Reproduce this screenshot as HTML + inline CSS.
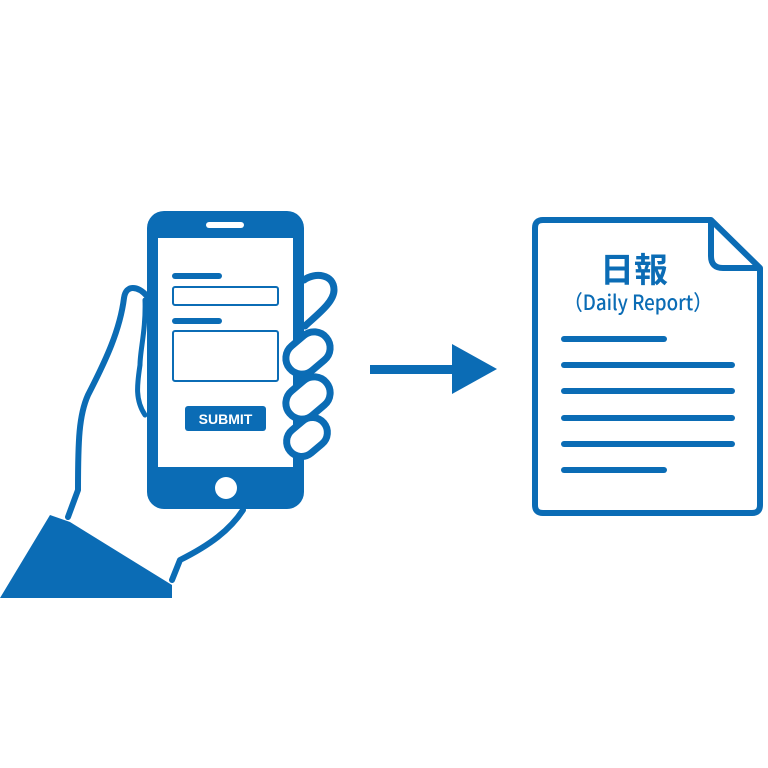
<!DOCTYPE html>
<html><head><meta charset="utf-8"><style>html,body{margin:0;padding:0;background:#fff}svg{display:block}</style></head>
<body>
<svg width="768" height="768" viewBox="0 0 768 768" xmlns="http://www.w3.org/2000/svg">
<g fill="none" stroke="#0b6cb5" stroke-linecap="round" stroke-linejoin="round">
  <!-- hand outline -->
  <path d="M147 296 C138 286 126 284 124 298 C120 330 106 360 88 395 C79 415 78 440 78 490 L68 517" stroke-width="6"/>
  <path d="M145 300 C146 330 140 350 140 365 C137 385 135 400 145 415" stroke-width="5"/>
  <path d="M243 510 C230 530 210 545 180 560 L172 580" stroke-width="6"/>
  <!-- fingers -->
  <path d="M304 280 C315 272 334 274 334 290 C334 302 318 314 305 326" stroke-width="7"/>
</g>
<!-- cuff -->
<path d="M50 515 L70 522 L172 585 L172 598 L0 598 Z" fill="#0b6cb5"/>
<!-- phone -->
<rect x="147" y="211" width="157" height="298" rx="17" fill="#0b6cb5"/>
<rect x="158" y="238" width="135" height="229" fill="#fff"/>
<rect x="206" y="222" width="38" height="6" rx="3" fill="#fff"/>
<circle cx="226" cy="488" r="11" fill="#fff"/>
<g fill="#0b6cb5">
  <rect x="172" y="273" width="50" height="6" rx="3"/>
  <rect x="172" y="318" width="50" height="6" rx="3"/>
  <rect x="185" y="406" width="81" height="25" rx="3"/>
</g>
<rect x="173" y="287" width="105" height="18" rx="2" fill="none" stroke="#0b6cb5" stroke-width="2"/>
<rect x="173" y="331" width="105" height="50" rx="2" fill="none" stroke="#0b6cb5" stroke-width="2"/>
<text x="225.5" y="424" text-anchor="middle" font-family="Liberation Sans, sans-serif" font-weight="bold" font-size="14" fill="#fff">SUBMIT</text>
<!-- fingers over phone edge -->
<g fill="#fff" stroke="#0b6cb5" stroke-width="7">
  <rect x="-24" y="-16" width="48" height="32" rx="16" transform="translate(308,353) rotate(-40)"/>
  <rect x="-24" y="-16" width="48" height="32" rx="16" transform="translate(308,398) rotate(-40)"/>
  <rect x="-22" y="-15" width="44" height="30" rx="15" transform="translate(307,437) rotate(-40)"/>
</g>
<!-- arrow -->
<rect x="370" y="365" width="88" height="9" fill="#0b6cb5"/>
<path d="M452 344 L497 369 L452 394 Z" fill="#0b6cb5"/>
<!-- document -->
<path d="M543 220 L711 220 L760 268 L760 505 Q760 513 752 513 L543 513 Q535 513 535 505 L535 228 Q535 220 543 220 Z" fill="none" stroke="#0b6cb5" stroke-width="6" stroke-linejoin="round"/>
<path d="M711 222 L711 256 Q711 268 723 268 L758 268" fill="none" stroke="#0b6cb5" stroke-width="6" stroke-linejoin="round"/>
<text x="634" y="282" text-anchor="middle" font-family="Noto Sans CJK JP, sans-serif" font-weight="bold" font-size="34" fill="#0b6cb5">日報</text>
<text x="638" y="310" text-anchor="middle" font-family="Noto Sans CJK JP, sans-serif" font-weight="500" font-size="21" fill="#0b6cb5" textLength="148" lengthAdjust="spacingAndGlyphs">（Daily Report）</text>
<g stroke="#0b6cb5" stroke-width="6" stroke-linecap="round">
  <line x1="564" y1="339" x2="664" y2="339"/>
  <line x1="564" y1="365" x2="732" y2="365"/>
  <line x1="564" y1="391" x2="732" y2="391"/>
  <line x1="564" y1="418" x2="732" y2="418"/>
  <line x1="564" y1="444" x2="732" y2="444"/>
  <line x1="564" y1="470" x2="664" y2="470"/>
</g>
</svg>
</body></html>
